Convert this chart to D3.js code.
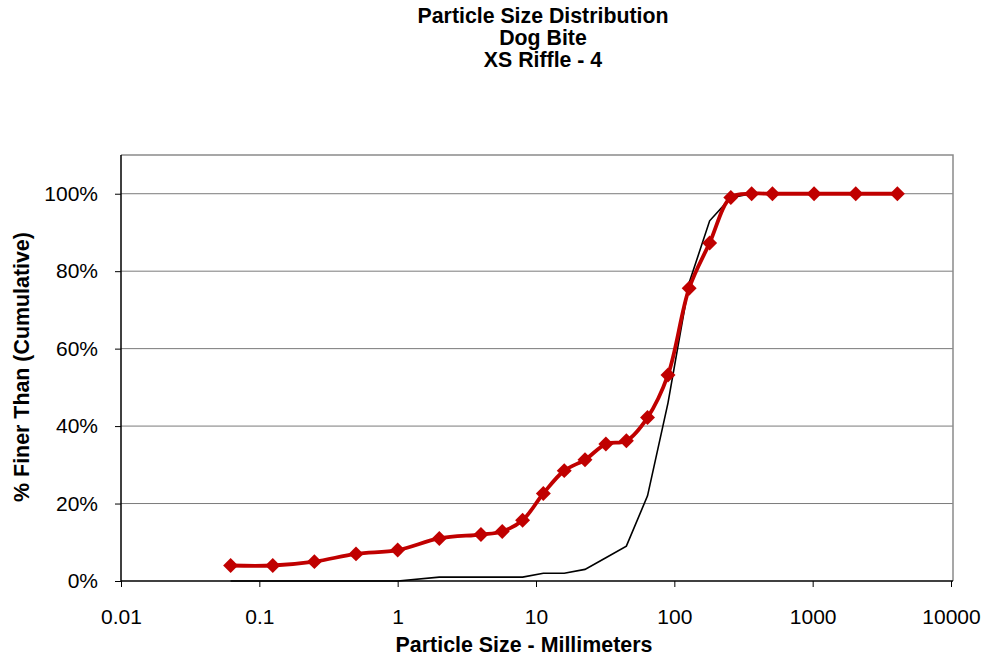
<!DOCTYPE html>
<html lang="en">
<head>
    <meta charset="UTF-8">
    <title>Particle Size Distribution</title>
    <script src="https://d3js.org/d3.v7.min.js"></script>
    <style>
        body {
            margin: 0;
            padding: 0;
            overflow: hidden;
            background-color: #fff;
        }
        text {
            font-family: "Liberation Sans", Arial, sans-serif;
        }
    </style>
</head>
<body>
    <div id="chart"></div>
    <script>
        const width = 986;
        const height = 659;

        // sieve sizes (mm)
        const sizes = [0.062, 0.125, 0.25, 0.5, 1, 2, 4, 5.7, 8, 11.3, 16, 22.6, 32, 45, 64, 90, 128, 180, 256, 362, 512, 1024, 2048, 4096];
        // % finer, riffle sample (red, markers)
        const riffle = [4, 4, 5, 7, 8, 11, 12, 12.8, 15.7, 22.6, 28.5, 31.3, 35.4, 36.2, 42.2, 53.2, 75.6, 87.3, 99, 100, 100, 100, 100, 100];
        // % finer, reference sample (thin black)
        const reference = [0, 0, 0, 0, 0, 1, 1, 1, 1, 2, 2, 3, 6, 9, 22, 46, 77, 93, 99, 100, 100, 100, 100, 100];

        const xTicks = [0.01, 0.1, 1, 10, 100, 1000, 10000];
        const yTicks = [0, 20, 40, 60, 80, 100];
        const titleLines = ["Particle Size Distribution", "Dog Bite", "XS Riffle - 4"];

        const margin = {left: 121, right: 33, top: 155, bottom: 78};
        const x0 = margin.left, x1 = width - margin.right;
        const y0 = height - margin.bottom, y1 = margin.top;

        const svg = d3.select("#chart")
            .append("svg")
            .attr("width", width)
            .attr("height", height);

        const x = d3.scaleLog().domain([0.01, 10000]).range([x0, 951]);
        const y = d3.scaleLinear().domain([0, 110]).range([y0, y1]);

        // gridlines
        svg.append("g")
            .selectAll("line")
            .data(yTicks.filter(d => d > 0))
            .enter().append("line")
            .attr("x1", x0).attr("x2", x1)
            .attr("y1", d => y(d)).attr("y2", d => y(d))
            .attr("stroke", "#7a7a7a")
            .attr("stroke-width", 1);

        // frame top/right
        svg.append("path")
            .attr("d", `M${x0},${y1}H${x1}V${y0}`)
            .attr("fill", "none")
            .attr("stroke", "#8a8a8a")
            .attr("stroke-width", 1.5);

        // axes
        const yAxis = svg.append("g")
            .attr("transform", `translate(${x0},0)`)
            .call(d3.axisLeft(y).tickValues(yTicks).tickSize(6).tickPadding(17).tickFormat(d => d + "%"));
        const xAxis = svg.append("g")
            .attr("transform", `translate(0,${y0})`)
            .call(d3.axisBottom(x).tickValues(xTicks).tickSize(6).tickPadding(22).tickFormat(d => String(d)));
        yAxis.select(".domain").attr("d", `M0,${y0}V${y1}`);
        xAxis.select(".domain").attr("d", `M${x0},0H${x1}`);
        svg.selectAll(".domain").attr("stroke", "#000").attr("stroke-width", 1.5);
        svg.selectAll(".tick line").attr("stroke", "#000");
        svg.selectAll(".tick text")
            .attr("font-family", "Liberation Sans, Arial, sans-serif")
            .attr("font-size", 21)
            .attr("fill", "#000");

        // reference line
        const line = d3.line().x((d, i) => x(sizes[i])).y(d => y(d));
        svg.append("path")
            .datum(reference)
            .attr("d", line)
            .attr("fill", "none")
            .attr("stroke", "#000")
            .attr("stroke-width", 1.6);

        // riffle line, smoothed
        const smooth = d3.line().x((d, i) => x(sizes[i])).y(d => y(d)).curve(d3.curveCatmullRom);
        svg.append("path")
            .datum(riffle)
            .attr("d", smooth)
            .attr("fill", "none")
            .attr("stroke", "#c00000")
            .attr("stroke-width", 3.8);

        svg.append("g")
            .selectAll("path")
            .data(riffle)
            .enter().append("path")
            .attr("d", d3.symbol().type(d3.symbolSquare).size(112))
            .attr("transform", (d, i) => `translate(${x(sizes[i])},${y(d)}) rotate(45)`)
            .attr("fill", "#c00000");

        // titles
        svg.append("g")
            .selectAll("text")
            .data(titleLines)
            .enter().append("text")
            .attr("x", 543)
            .attr("y", (d, i) => 23 + i * 22)
            .attr("text-anchor", "middle")
            .attr("font-size", 21.3)
            .attr("font-weight", "bold")
            .text(d => d);

        svg.append("text")
            .attr("x", 524)
            .attr("y", 652)
            .attr("text-anchor", "middle")
            .attr("font-size", 21.4)
            .attr("font-weight", "bold")
            .text("Particle Size - Millimeters");

        svg.append("text")
            .attr("transform", "translate(29,367) rotate(-90)")
            .attr("text-anchor", "middle")
            .attr("font-size", 21.4)
            .attr("font-weight", "bold")
            .text("% Finer Than (Cumulative)");
    </script>
</body>
</html>
